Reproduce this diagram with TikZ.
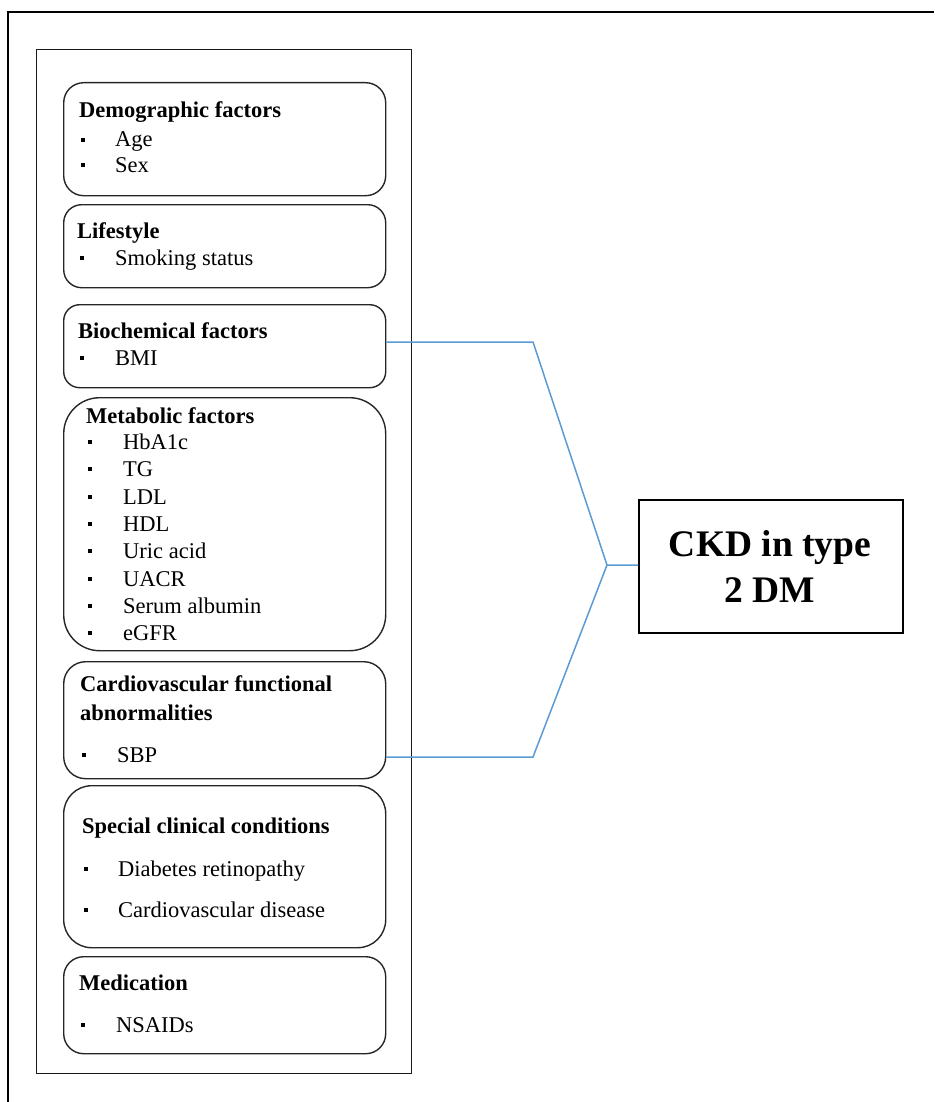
\documentclass[tikz,border=0pt]{standalone}
\usepackage{fontspec}
\setmainfont{Liberation Serif}
\definecolor{linkblue}{RGB}{91,155,213}
\newcommand{\sqdot}{\rule[5pt]{4pt}{4pt}}
\begin{document}
\begin{tikzpicture}[x=1pt,y=-1pt,
  factor/.style={draw=black!85, line width=1.4pt, anchor=north west, inner sep=0pt},
  frame/.style={draw=black!90, line width=1.4pt},
  ttl/.style={anchor=base west, inner sep=0pt, font=\fontsize{22.5}{26}\selectfont\bfseries},
  itm/.style={anchor=base west, inner sep=0pt, font=\fontsize{22.5}{26}\selectfont},
  blt/.style={anchor=base west, inner sep=0pt},
  target/.style={draw=black, line width=1.5pt, anchor=north west, inner sep=0pt},
  link/.style={draw=linkblue, line width=1.5pt}
]
\useasboundingbox (0,0) rectangle (934,1102);

% page frame (top and left edges)
\draw[line width=1.3pt] (8,1102) -- (8,12) -- (934,12);

% frame round the factor groups
\node[frame, anchor=north west, minimum width=375pt, minimum height=1024pt, inner sep=0pt] (panel) at (36,49) {};

% factor groups
\node[factor, rounded corners=20pt, minimum width=322pt, minimum height=113pt] (demo) at (63,82) {};
\node[factor, rounded corners=18pt, minimum width=322pt, minimum height=83pt] (life) at (63,204) {};
\node[factor, rounded corners=16pt, minimum width=322pt, minimum height=83pt] (bio) at (63,304) {};
\node[factor, rounded corners=36pt, minimum width=322pt, minimum height=253pt] (meta) at (63,397) {};
\node[factor, rounded corners=22pt, minimum width=322pt, minimum height=117pt] (cardio) at (63,661) {};
\node[factor, rounded corners=28pt, minimum width=322pt, minimum height=162pt] (spec) at (63,785) {};
\node[factor, rounded corners=20pt, minimum width=322pt, minimum height=97pt] (med) at (63,956) {};

% demographic factors
\node[ttl] (demoT) at (79,118) {Demographic factors};
\node[blt] (demoB1) at (81,147) {\sqdot};
\node[itm] (demoI1) at (115,147) {Age};
\node[blt] (demoB2) at (81,172) {\sqdot};
\node[itm] (demoI2) at (115,172) {Sex};

% lifestyle
\node[ttl] (lifeT) at (77,238) {Lifestyle};
\node[blt] (lifeB1) at (80,265) {\sqdot};
\node[itm] (lifeI1) at (115,265) {Smoking status};

% biochemical factors
\node[ttl] (bioT) at (78,338) {Biochemical factors};
\node[blt] (bioB1) at (80,365) {\sqdot};
\node[itm] (bioI1) at (115,365) {BMI};

% metabolic factors
\node[ttl] (metaT) at (86,423) {Metabolic factors};
\foreach \lbl/\yy [count=\k] in {HbA1c/449, TG/476, LDL/504, HDL/531, Uric acid/558, UACR/586, Serum albumin/613, eGFR/640}{
  \node[blt] (metaB\k) at (88,\yy) {\sqdot};
  \node[itm] (metaI\k) at (123,\yy) {\lbl};
}

% cardiovascular functional abnormalities
\node[ttl] (cardioT1) at (80,691) {Cardiovascular functional};
\node[ttl] (cardioT2) at (80,720) {abnormalities};
\node[blt] (cardioB1) at (82,762) {\sqdot};
\node[itm] (cardioI1) at (117,762) {SBP};

% special clinical conditions
\node[ttl] (specT) at (82,833) {Special clinical conditions};
\node[blt] (specB1) at (84,876) {\sqdot};
\node[itm] (specI1) at (118,876) {Diabetes retinopathy};
\node[blt] (specB2) at (84,917) {\sqdot};
\node[itm] (specI2) at (118,917) {Cardiovascular disease};

% medication
\node[ttl] (medT) at (79,990) {Medication};
\node[blt] (medB1) at (81,1032) {\sqdot};
\node[itm] (medI1) at (116,1032) {NSAIDs};

% outcome
\node[target, minimum width=264pt, minimum height=133pt] (ckd) at (638,499) {};
\node[anchor=base, inner sep=0pt, font=\fontsize{37.5}{45}\selectfont\bfseries] (ckdT1) at (770,556) {CKD in type};
\node[anchor=base, inner sep=0pt, font=\fontsize{37.5}{45}\selectfont\bfseries] (ckdT2) at (770,602) {2 DM};

% bracket joining the groups to the outcome
\coordinate (join) at (607,565);
\coordinate (bendTop) at (533,342);
\coordinate (bendBot) at (533,757);
\draw[link] (bio.east |- bendTop) -- (bendTop) -- (join) -- (join -| ckd.west);
\draw[link] (cardio.east |- bendBot) -- (bendBot) -- (join);
\end{tikzpicture}
\end{document}
